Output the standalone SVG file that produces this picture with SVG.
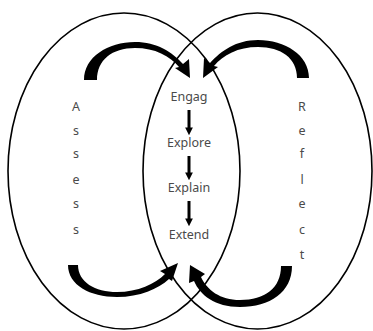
<svg xmlns="http://www.w3.org/2000/svg" width="373" height="331" viewBox="0 0 373 331">
<style>
.ring{fill:none;stroke:#000;stroke-width:1.6}
.arc{fill:#000;stroke:none}
.t{font-family:"Noto Sans","Open Sans",sans-serif;font-size:12.5px;fill:#4a4a4a;text-anchor:middle}
.dn{stroke:#000;stroke-width:3}
</style>
<defs>
<marker id="ah" viewBox="0 0 10 10" refX="2" refY="5" markerWidth="2.6" markerHeight="2.6" orient="auto" markerUnits="strokeWidth">
<path d="M0,0 L10,5 L0,10 Z" fill="#000"/>
</marker>
</defs>
<rect width="373" height="331" fill="#fff"/>
<g id="assess">
<ellipse class="ring" cx="124" cy="171" rx="116" ry="158"/>
<text class="t" x="76" y="111">A</text>
<text class="t" x="76" y="135">s</text>
<text class="t" x="76" y="158">s</text>
<text class="t" x="76" y="184">e</text>
<text class="t" x="76" y="208">s</text>
<text class="t" x="76" y="234">s</text>
</g>
<g id="reflect">
<ellipse class="ring" cx="257.5" cy="171" rx="114.5" ry="158"/>
<text class="t" x="302" y="111">R</text>
<text class="t" x="302" y="135">e</text>
<text class="t" x="302" y="158">f</text>
<text class="t" x="302" y="184">l</text>
<text class="t" x="302" y="208">e</text>
<text class="t" x="302" y="234">c</text>
<text class="t" x="302" y="259">t</text>
</g>
<g id="center">
<text class="t" x="189" y="101">Engag</text>
<text class="t" x="189" y="147">Explore</text>
<text class="t" x="189" y="192">Explain</text>
<text class="t" x="189" y="239">Extend</text>
</g>
<g id="connectors">
<line class="dn" x1="189" y1="110" x2="189" y2="129" marker-end="url(#ah)"/>
<line class="dn" x1="189" y1="156" x2="189" y2="174" marker-end="url(#ah)"/>
<line class="dn" x1="189" y1="201" x2="189" y2="220" marker-end="url(#ah)"/>
<path class="arc" d="M84,80 C84,57 108,42 135,42 C157,42 172,52 183,64 L189,59 L190,78 L175,68 L179,67 C170,56 155,48 135,48 C112,48 97,60 97,80 Z"/>
<path class="arc" d="M309,78 C309,55 285,40 258,40 C236,40 221,51 210,63 L204,58 L203,78 L218,67 L214,66 C223,55 238,47 258,47 C281,47 297,58 297,78 Z"/>
<path class="arc" d="M68,265 C68,285 90,297 117,297 C140,297 158,289 169,279 L172,281 L178,263 L160,271 L165,274 C155,284 138,292 117,292 C95,292 78,282 78,265 Z"/>
<path class="arc" d="M292,266 C292,292 270,307 240,307 C215,307 200,295 194,281 L189,283 L190,265 L205,274 L201,277 C207,290 220,300 240,300 C265,300 281,288 281,266 Z"/>
</g>
</svg>
